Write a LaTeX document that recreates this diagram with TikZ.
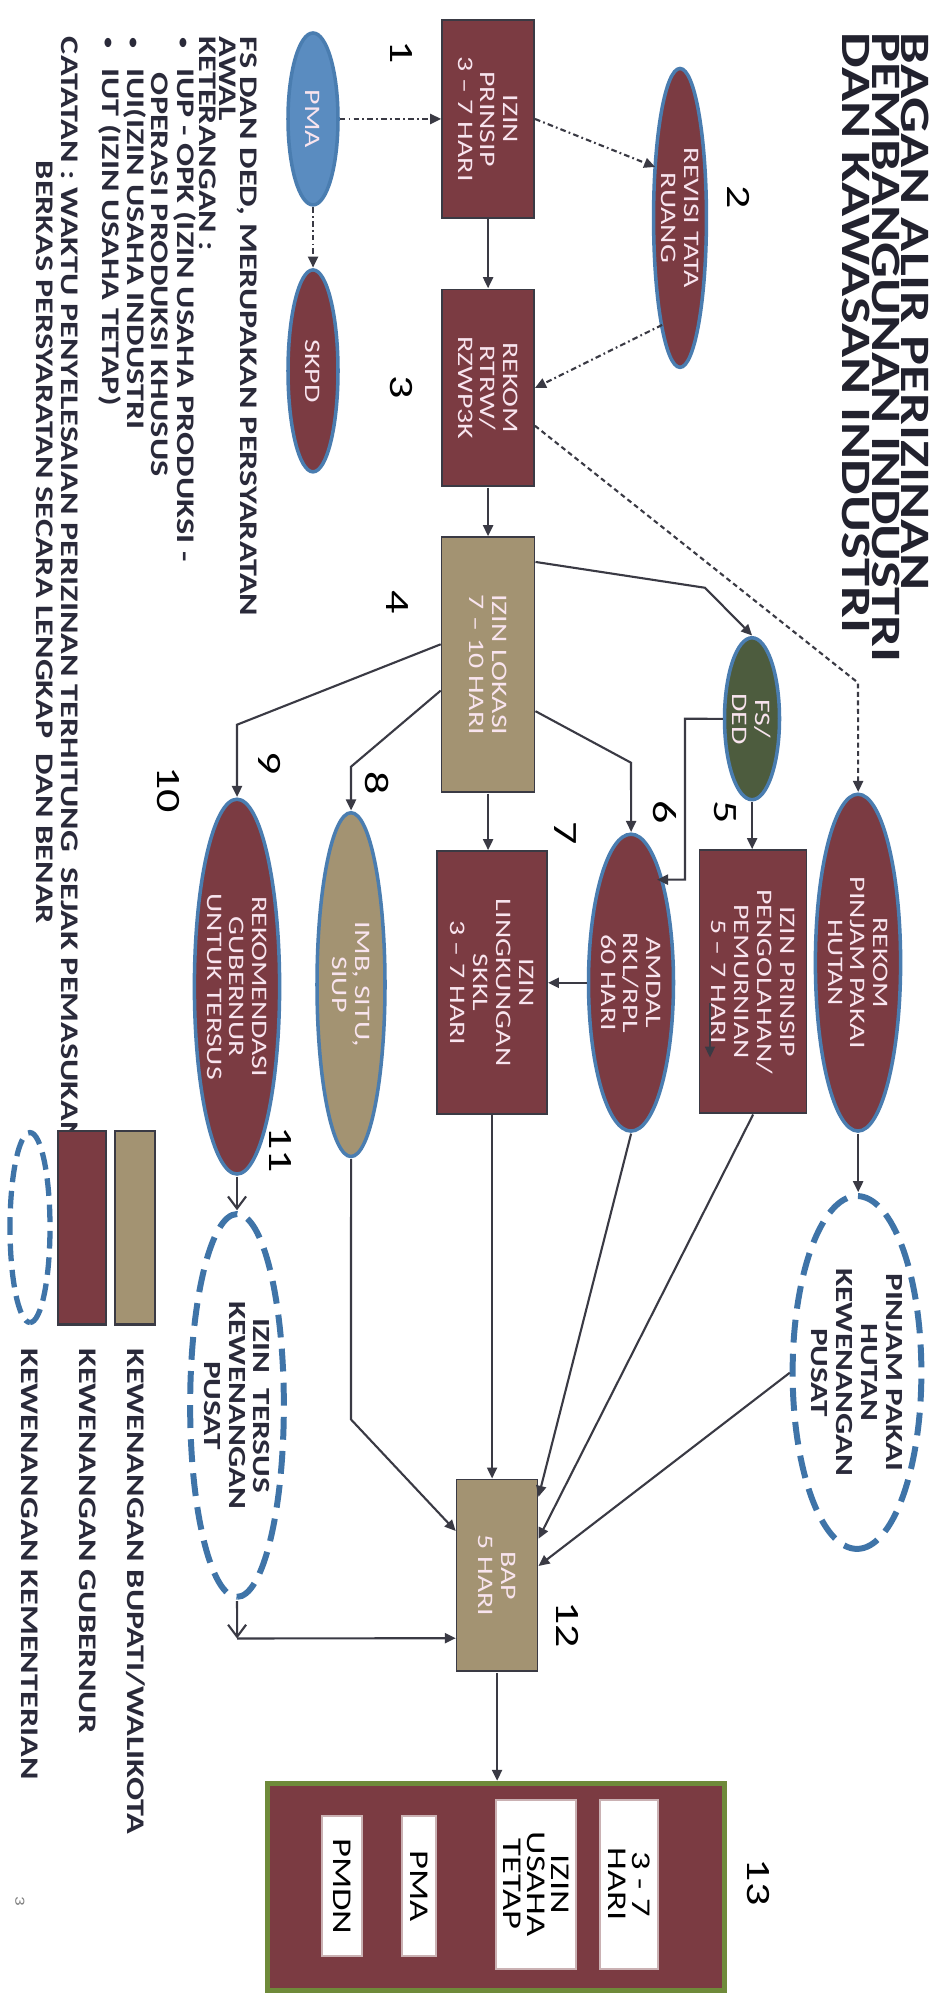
\documentclass[tikz,border=0pt]{standalone}
\usepackage{fontspec}
\setmainfont{Carlito}
\usetikzlibrary{shapes.geometric,arrows.meta,calc}
\definecolor{maroon}{HTML}{7B3B42}
\definecolor{tanc}{HTML}{A39372}
\definecolor{pmablue}{HTML}{5A8CC0}
\definecolor{fsgreen}{HTML}{4D5C3E}
\definecolor{eborder}{HTML}{4A7DB0}
\definecolor{dashblue}{HTML}{3F74A8}
\definecolor{olivec}{HTML}{6F8A3A}
\definecolor{ntext}{HTML}{F8E4EE}
\definecolor{linec}{HTML}{3A3A44}
\definecolor{darktext}{HTML}{2A2A3A}
\definecolor{titlec}{HTML}{22222E}
\newcommand{\bul}{\makebox[2.3mm][l]{\mdseries\fontsize{5.5}{5.5}\selectfont •}}
\tikzset{
 lbl/.style={font=\fontsize{6.3}{6.5}\selectfont, text=ntext, align=center, inner sep=0pt},
 sz/.style 2 args={minimum height=#1*0.01cm, minimum width=#2*0.0074074cm},
 rbox/.style={rectangle, draw=linec, line width=0.5pt, fill=maroon, lbl},
 tbox/.style={rbox, fill=tanc},
 ell/.style={ellipse, draw=eborder, line width=1pt, fill=maroon, lbl},
 dell/.style={ellipse, draw=dashblue, line width=1.7pt, dash pattern=on 6.5pt off 3.2pt, font=\bfseries\fontsize{7}{7.1}\selectfont, text=darktext, align=center, inner sep=0pt},
 wbox/.style={rectangle, fill=white, draw=maroon!40, line width=0.5pt, font=\fontsize{7.7}{6.9}\selectfont, text=black, align=center, inner sep=0pt},
 num/.style={font=\fontsize{9.7}{10}\selectfont, text=black, inner sep=0pt},
 conn/.style={draw=linec, line width=0.6pt, -{Triangle[length=1.1mm,width=1mm]}},
 dd/.style={conn, dash pattern=on 1.6pt off 0.9pt on 0.5pt off 0.9pt},
 fdash/.style={conn, dash pattern=on 1.4pt off 1pt},
 barb/.style={draw=linec, line width=0.6pt, -{Straight Barb[length=1.2mm,width=1.8mm]}},
 note/.style={font=\bfseries\fontsize{7.2}{7.2}\selectfont, text=darktext, inner sep=0pt, anchor=west},
}
\begin{document}
\begin{tikzpicture}[x=0.01cm,y=0.01cm]
\fill[white] (0,0) rectangle (935,-2000);
\useasboundingbox (0,0) rectangle (935,-2000);
\begin{scope}[rotate=-90, xscale=1.35, x=0.0074074cm, y=0.01cm, transform shape]
% title
\node[anchor=north west, align=left, font=\bfseries\fontsize{11.9}{8.4}\selectfont, text=titlec, inner sep=0pt] (title) at (32,930) {BAGAN ALIR PERIZINAN\\PEMBANGUNAN INDUSTRI\\DAN KAWASAN INDUSTRI};
% nodes
\node[ell, fill=pmablue, sz={50}{172}] (pma) at (119,313) {PMA};
\node[rbox, sz={92}{198}] (prinsip) at (119,488) {IZIN\\PRINSIP\\3 – 7 HARI};
\node[ell, sz={52}{299}] (revisi) at (218,680) {REVISI TATA\\RUANG};
\node[rbox, sz={92}{197}] (rekom) at (388,488) {REKOM\\RTRW/\\RZWP3K};
\node[ell, sz={50}{202}] (skpd) at (371,313) {SKPD};
\node[tbox, sz={93}{255}] (lokasi) at (665,488) {IZIN LOKASI\\7 – 10 HARI};
\node[ell, fill=fsgreen, sz={55}{162}] (fsded) at (719,752) {FS/\\DED};
\node[ell, sz={83}{337}] (rpinjam) at (963,858) {REKOM\\PINJAM PAKAI\\HUTAN};
\node[rbox, sz={107}{263}] (olah) at (982,753) {IZIN PRINSIP\\PENGOLAHAN/\\PEMURNIAN\\5 – 7 HARI};
\node[ell, sz={72}{297}] (amdal) at (983,631) {AMDAL\\RKL/RPL\\60 HARI};
\node[rbox, sz={110}{263}] (lingk) at (983,492) {IZIN\\LINGKUNGAN\\SKKL\\3 – 7 HARI};
\node[ell, fill=tanc, sz={68}{344}] (imb) at (985,351) {IMB, SITU,\\SIUP};
\node[ell, sz={68}{375}] (rgub) at (987,237) {REKOMENDASI\\GUBERNUR\\UNTUK TERSUS};
\node[dell, sz={98}{353}] (ppusat) at (1373,857) {PINJAM PAKAI\\HUTAN\\KEWENANGAN\\PUSAT};
\node[dell, sz={80}{383}] (tersus) at (1406,237) {IZIN\ \ TERSUS\\KEWENANGAN\\PUSAT};
\node[tbox, sz={81}{192}] (bap) at (1576,497) {BAP\\5 HARI};
\node[rectangle, draw=olivec, line width=1.4pt, fill=maroon, sz={457}{207}] (b13) at (1888,496) {};
\node[wbox, sz={58}{169}] (w1) at (1885,629) {3 - 7\\HARI};
\node[wbox, sz={80}{169}] (w2) at (1885,536) {IZIN\\USAHA\\TETAP};
\node[wbox, sz={34}{140}] (w3) at (1887,419) {PMA};
\node[wbox, sz={40}{140}] (w4) at (1887,342) {PMDN};
% numbers
\node[num] (n1) at (52,401) {1};
\node[num] (n2) at (197,739) {2};
\node[num] (n3) at (387,401) {3};
\node[num] (n4) at (602,397) {4};
\node[num] (n5) at (812,725) {5};
\node[num] (n6) at (812,665) {6};
\node[num] (n7) at (833,565) {7};
\node[num] (n8) at (783,377) {8};
\node[num] (n9) at (763,270) {9};
\node[num] (n10) at (790,168) {10};
\node[num] (n11) at (1150,280) {11};
\node[num] (n12) at (1625,568) {12};
\node[num] (n13) at (1883,758) {13};
\node[font=\fontsize{4}{4}\selectfont, text=gray, inner sep=0pt] (pg) at (1902,20) {3};
% notes
\node[note] (t1) at (36,247) {FS DAN DED, MERUPAKAN PERSYARATAN};
\node[note] (t2) at (36,228) {AWAL};
\node[note] (t3) at (36,208) {KETERANGAN :};
\node[note] (t4) at (36,185) {\bul IUP - OPK (IZIN USAHA PRODUKSI -};
\node[note] (t5) at (72,160) {OPERASI PRODUKSI KHUSUS};
\node[note] (t6) at (36,135) {\bul IUI(IZIN USAHA INDUSTRI};
\node[note] (t7) at (36,110) {\bul IUT (IZIN USAHA TETAP)};
\node[note] (t8) at (36,70) {CATATAN : WAKTU PENYELESAIAN PERIZINAN TERHITUNG\ \ SEJAK PEMASUKAN};
\node[note] (t9) at (160,45) {BERKAS PERSYARATAN SECARA LENGKAP\ \ DAN BENAR};
% legend
\node[rectangle, draw=linec, line width=0.6pt, fill=tanc, sz={40}{194}] (lg1) at (1228,135) {};
\node[rectangle, draw=linec, line width=0.6pt, fill=maroon, sz={48}{194}] (lg2) at (1228,82) {};
\node[ellipse, draw=dashblue, line width=1.5pt, dash pattern=on 5pt off 2.5pt, sz={40}{190}] (lg3) at (1228,30) {};
\node[note] (lt1) at (1348,136) {KEWENANGAN BUPATI/WALIKOTA};
\node[note] (lt2) at (1348,88) {KEWENANGAN GUBERNUR};
\node[note] (lt3) at (1348,30) {KEWENANGAN KEMENTERIAN};
% connectors
\draw[dd] (pma.north) -- (prinsip.south);
\draw[dd] (pma.east) -- (skpd.west);
\coordinate (rv1) at (167,655);
\coordinate (rv2) at (325,662);
\draw[dd] (prinsip.north) -- (rv1);
\draw[dd] (rv2) -- (rekom.north);
\draw[conn] (prinsip.east) -- (rekom.west);
\draw[fdash] ($(rekom.north west)!0.69!(rekom.north east)$) -- (683,858) -- (rpinjam.west);
\draw[conn] (rekom.east) -- (lokasi.west);
\draw[conn] ($(lokasi.north west)!0.1!(lokasi.north east)$) -- (588,705) -- (fsded.west);
\draw[conn] ($(lokasi.north west)!0.68!(lokasi.north east)$) -- (763,631) -- (amdal.west);
\draw[conn] (lokasi.east) -- (lingk.west |- lokasi.east);
\draw[conn] ($(lokasi.south west)!0.6!(lokasi.south east)$) -- (767,351) -- (imb.west);
\draw[conn] ($(lokasi.south west)!0.42!(lokasi.south east)$) -- (725,237) -- (rgub.west);
\draw[conn] (fsded.east) -- (olah.west |- fsded.east);
\draw[conn] (fsded.south) -- (719,685) -- (880,685) -- (880,657);
\draw[conn] (amdal.south) -- (amdal.south |- lingk.north);
\draw[conn, line width=0.5pt] (1003,710) -- (1058,710);
\draw[conn] (rpinjam.east) -- (ppusat.west |- rpinjam.east);
\draw[barb] (rgub.east) -- (tersus.west |- rgub.east);
\coordinate (bapL) at ($(bap.south west)!0.82!(bap.south east)$);
\coordinate (tc) at (bapL |- tersus.east);
\draw[barb] (tersus.east) -- (tc);
\draw[conn] (tc) -- (bapL);
\draw[conn] (ppusat.south) -- ($(bap.north west)!0.45!(bap.north east)$);
\draw[conn] (olah.east) -- ($(bap.north west)!0.31!(bap.north east)$);
\draw[conn] (amdal.east) -- ($(bap.north west)!0.094!(bap.north east)$);
\draw[conn] (lingk.east) -- (bap.west |- lingk.east);
\draw[conn] (imb.east) -- (1420,351) -- ($(bap.south west)!0.27!(bap.south east)$);
\draw[conn] (bap.east) -- (b13.west |- bap.east);
\end{scope}
\end{tikzpicture}
\end{document}
